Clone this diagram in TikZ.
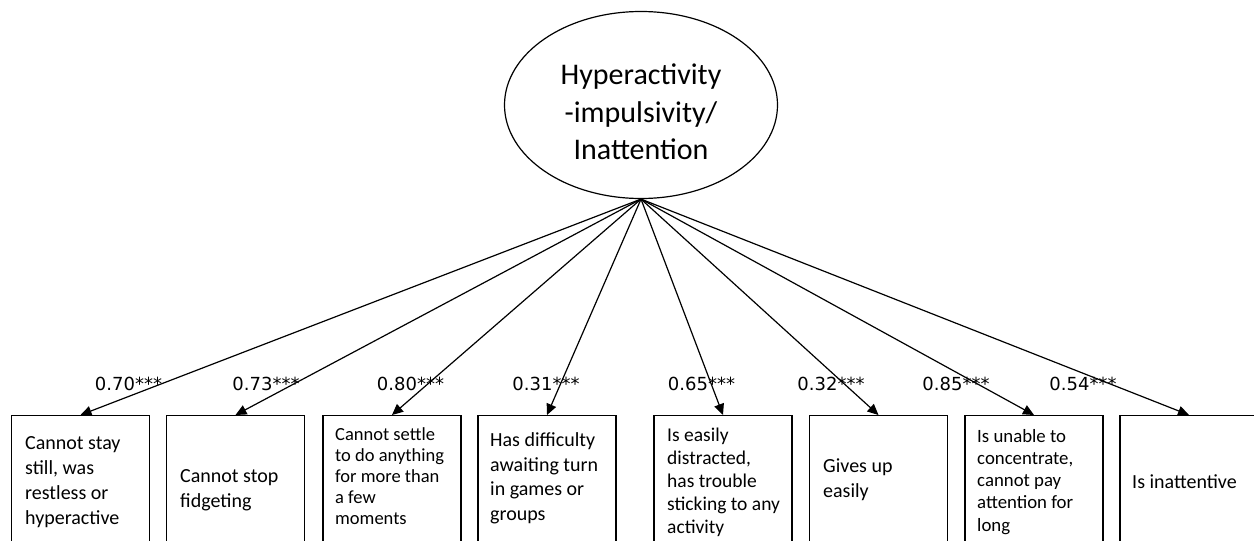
\documentclass[tikz,border=0pt]{standalone}
\usepackage{fontspec}
\setmainfont{Carlito}
\newfontfamily\coeffont{DejaVu Sans}
\usetikzlibrary{arrows.meta,shapes.geometric}

\begin{document}
\begin{tikzpicture}[x=1pt,y=1pt,
    factor/.style = {draw,ellipse,line width=1.2pt,minimum width=273pt,minimum height=187pt,inner sep=0pt,align=center,font=\fontsize{30}{37.5}\selectfont},
    item box/.style = {draw,rectangle,line width=1.4pt,anchor=north,minimum width=138pt,minimum height=150pt,inner sep=0pt},
    item text/.style = {anchor=base west,align=left,inner sep=0pt,font=\fontsize{20}{24.7}\selectfont},
    loading/.style = {line width=1.2pt,-{Triangle[length=11pt,width=10pt]}},
    coef/.style = {anchor=base,inner sep=0pt,font=\coeffont\fontsize{18}{21}\selectfont}]
        \useasboundingbox (0,0) rectangle (1254,-541);
        \clip (0,0) rectangle (1254,-541);
        \node[factor] (hi) at (641,-105) {\rule{0pt}{35pt}Hyperactivity\\-impulsivity/\\Inattention};
        % indicator boxes
        \node[item box] (b1) at (80.5,-415) {};
        \node[item box] (b2) at (235.5,-415) {};
        \node[item box] (b3) at (392,-415) {};
        \node[item box] (b4) at (547,-415) {};
        \node[item box] (b5) at (723,-415) {};
        \node[item box] (b6) at (878.5,-415) {};
        \node[item box] (b7) at (1034,-415) {};
        \node[item box] (b8) at (1189,-415) {};
        % texts, placed by the baseline of their last line
        \node[item text] (t1) at (25,-524) {Cannot stay\\still, was\\restless or\\hyperactive};
        \node[item text] (t2) at (180,-507) {Cannot stop\\fidgeting};
        \node[item text,font=\fontsize{18.5}{20.8}\selectfont] (t3) at (335,-524) {Cannot settle\\to do anything\\for more than\\a few\\moments};
        \node[item text,font=\fontsize{20}{24.5}\selectfont] (t4) at (490,-520) {Has difficulty\\awaiting turn\\in games or\\groups};
        \node[item text,font=\fontsize{19.5}{23}\selectfont] (t5) at (667,-533) {Is easily\\distracted,\\has trouble\\sticking to any\\activity};
        \node[item text] (t6) at (823,-497) {Gives up\\easily};
        \node[item text,font=\fontsize{18.8}{22.2}\selectfont] (t7) at (977,-531) {Is unable to\\concentrate,\\cannot pay\\attention for\\long};
        \node[item text] (t8) at (1132,-488) {Is inattentive};
        % loadings
        \foreach \i/\c/\x in {1/0.70/128.5,2/0.73/266,3/0.80/410.5,4/0.31/546,5/0.65/701.5,6/0.32/831,7/0.85/956,8/0.54/1083} {
            \draw[loading] (hi.south) -- (b\i.north);
            \node[coef] (c\i) at (\x,-390) {\c***};
        }
    \end{tikzpicture}
\end{document}
